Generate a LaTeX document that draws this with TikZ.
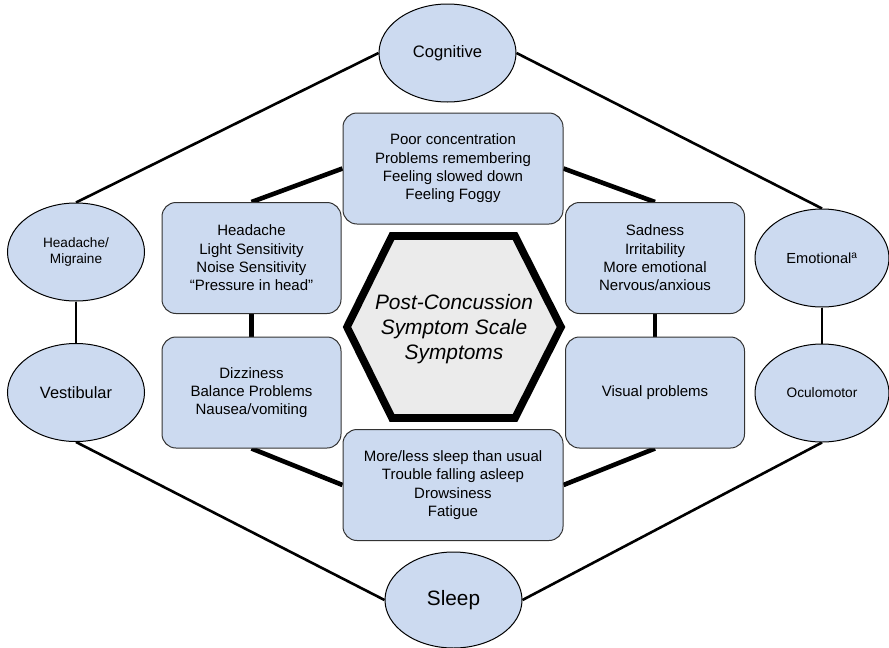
\documentclass[tikz,border=0pt]{standalone}
\usepackage{fontspec}
\setmainfont{Liberation Sans}
\usetikzlibrary{shapes.geometric,backgrounds}
\definecolor{boxblue}{HTML}{CCDAF0}
\definecolor{hexgray}{HTML}{EBEBEB}
\definecolor{edgegray}{HTML}{333333}
\begin{document}
\begin{tikzpicture}[x=1pt,y=-1pt,
  symbox/.style={draw=edgegray, line width=1pt, fill=boxblue, rounded corners=14pt,
    minimum width=179pt, minimum height=111pt, inner sep=0pt, align=center,
    font=\fontsize{15}{18.3}\selectfont},
  widebox/.style={symbox, minimum width=220pt},
  catnode/.style={draw=black, line width=1pt, fill=boxblue, ellipse,
    minimum width=137pt, minimum height=98pt, inner sep=0pt, align=center},
  catlink/.style={line width=2.6pt},
  symlink/.style={line width=4.6pt}]
\useasboundingbox (0,0) rectangle (889,648);

% category ellipses
\node[catnode, font=\fontsize{16.6}{19}\selectfont] (cog) at (447.5,53) {Cognitive};
\node[catnode, font=\fontsize{13.6}{15.5}\selectfont] (head) at (76,252) {Headache/\\Migraine};
\node[catnode, font=\fontsize{16.4}{19}\selectfont] (vest) at (76,392.5) {Vestibular};
\node[catnode, minimum width=134pt, font=\fontsize{14.6}{17}\selectfont] (emo) at (822,258) {Emotional\textsuperscript{a}};
\node[catnode, minimum width=134pt, font=\fontsize{13.7}{16}\selectfont] (ocu) at (822,393) {Oculomotor};
\node[catnode, minimum height=96pt, font=\fontsize{20.8}{24}\selectfont] (sleep) at (453.5,600) {Sleep};

% symptom boxes
\node[widebox] (cogbox) at (453,168.5) {Poor concentration\\Problems remembering\\Feeling slowed down\\Feeling Foggy};
\node[symbox] (headbox) at (251.5,258) {Headache\\Light Sensitivity\\Noise Sensitivity\\“Pressure in head”};
\node[symbox] (vestbox) at (251.5,392.5) {Dizziness\\Balance Problems\\Nausea/vomiting};
\node[symbox] (emobox) at (655,258) {Sadness\\Irritability\\More emotional\\Nervous/anxious};
\node[symbox] (ocubox) at (655,392.5) {Visual problems};
\node[widebox] (sleepbox) at (453,485) {More/less sleep than usual\\Trouble falling asleep\\Drowsiness\\Fatigue};

% central hexagon
\draw[line width=7.6pt, line join=miter, fill=hexgray]
  (347,327) -- (392,236) -- (515,236) -- (561,327) -- (515,418) -- (392,418) -- cycle;
\node[font=\itshape\fontsize{20.9}{25}\selectfont, align=center] (hex) at (454,329)
  {Post-Concussion\\Symptom Scale\\Symptoms};

\begin{pgfonlayer}{background}
\draw[catlink] (cog.west) -- (head.north);
\draw[catlink] (cog.east) -- (emo.north);
\draw[catlink] (head.south) -- (vest.north);
\draw[catlink] (emo.south) -- (ocu.north);
\draw[catlink] (vest.south) -- (sleep.west);
\draw[catlink] (ocu.south) -- (sleep.east);
\draw[symlink] (headbox.north) -- (cogbox.west);
\draw[symlink] (cogbox.east) -- (emobox.north);
\draw[symlink] (headbox.south) -- (vestbox.north);
\draw[symlink] (emobox.south) -- (ocubox.north);
\draw[symlink] (vestbox.south) -- (sleepbox.west);
\draw[symlink] (ocubox.south) -- (sleepbox.east);
\end{pgfonlayer}
\end{tikzpicture}
\end{document}
